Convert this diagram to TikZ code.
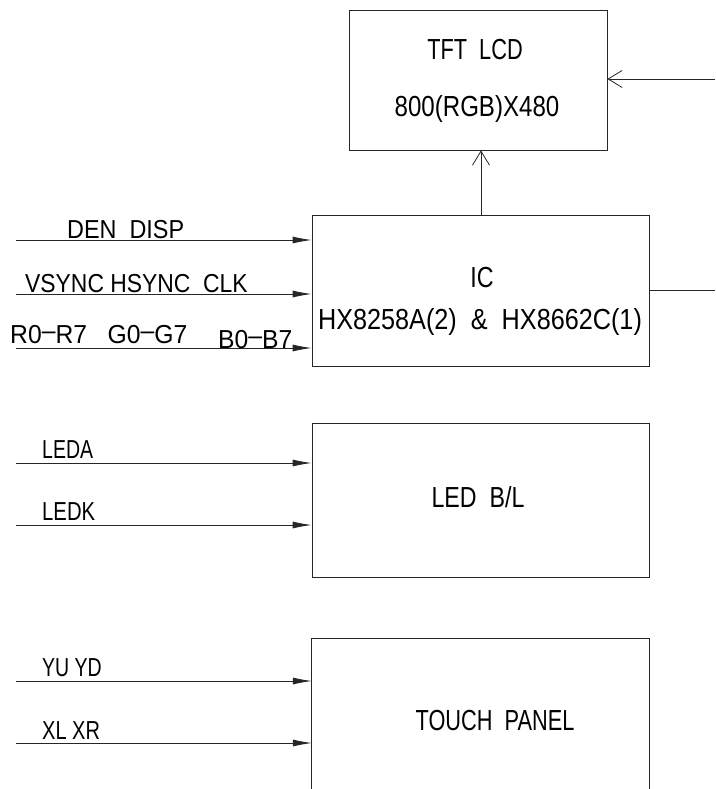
\documentclass[tikz,border=0pt]{standalone}
\usepackage{fontspec}
\setmainfont{Liberation Sans}
\usetikzlibrary{arrows.meta}
\begin{document}
\begin{tikzpicture}[x=1pt,y=-1pt,
  ln/.style={line width=0.8pt,draw=black!85},
  blk/.style={ln,draw,rectangle,inner sep=0pt},
  inarrow/.style={ln,-{Latex[length=19pt,width=7pt]}},
  openarrow/.style={ln,-{Straight Barb[length=14pt,width=17pt,line width=0.8pt]}},
  btxt/.style={anchor=base,inner sep=0pt,font=\fontsize{29}{32}\selectfont\addfontfeature{FakeStretch=#1}},
  ltxt/.style={anchor=base west,inner sep=0pt,font=\fontsize{26}{30}\selectfont\addfontfeature{FakeStretch=#1}}]
\useasboundingbox (0,0) rectangle (715,789);
% blocks
\node[blk,minimum width=258pt,minimum height=140pt] (tft) at (478,80) {};
\node[blk,minimum width=337pt,minimum height=151pt] (ic) at (480.5,290.5) {};
\node[blk,minimum width=337pt,minimum height=154pt] (led) at (480.5,500) {};
\node[inner sep=0pt,minimum width=337pt,minimum height=302pt] (tp) at (480.5,789) {};
\draw[ln] (tp.south west) -- (tp.west |- 0,638) -- (tp.east |- 0,638) -- (tp.south east);
% block texts
\node[btxt=0.75] (t1) at (475,60) {TFT~~LCD};
\node[btxt=0.83] (t2) at (477,117) {800(RGB)X480};
\node[btxt=0.8] (t3) at (482,287) {IC};
\node[btxt=0.87] (t4) at (480,329) {HX8258A(2)~~\&~~HX8662C(1)};
\node[btxt=0.8] (t5) at (478,507) {LED~~B/L};
\node[btxt=0.75] (t6) at (495,730) {TOUCH~~PANEL};
% input arrows
\coordinate (a1) at (16,240);
\coordinate (a2) at (16,294);
\coordinate (a3) at (16,348);
\coordinate (b1) at (16,463);
\coordinate (b2) at (16,525);
\coordinate (c1) at (16,681);
\coordinate (c2) at (16,743);
\draw[inarrow] (a1) -- (a1 -| ic.west);
\draw[inarrow] (a2) -- (a2 -| ic.west);
\draw[inarrow] (a3) -- (a3 -| ic.west);
\draw[inarrow] (b1) -- (b1 -| led.west);
\draw[inarrow] (b2) -- (b2 -| led.west);
\draw[inarrow] (c1) -- (c1 -| tp.west);
\draw[inarrow] (c2) -- (c2 -| tp.west);
% input labels
\node[ltxt=0.9] (l1) at (67,238) {DEN~~DISP};
\node[ltxt=0.88] (l2) at (25,292) {VSYNC~HSYNC~~CLK};
\node[ltxt=0.95] (l3) at (10,343) {R0\raisebox{0.12em}{–}R7~~~G0\raisebox{0.12em}{–}G7};
\node[ltxt=0.95] (l4) at (218,348) {B0\raisebox{0.12em}{–}B7};
\node[ltxt=0.75] (l5) at (42,458) {LEDA};
\node[ltxt=0.78] (l6) at (42,520) {LEDK};
\node[ltxt=0.75] (l7) at (42,676) {YU~YD};
\node[ltxt=0.77] (l8) at (42,739) {XL~XR};
% connections
\coordinate (v) at (481,0);
\draw[openarrow] (v |- ic.north) -- (v |- tft.south);
\coordinate (r1) at (715,79);
\draw[openarrow] (r1) -- (r1 -| tft.east);
\coordinate (r2) at (715,290);
\draw[ln] (r2 -| ic.east) -- (r2);
\end{tikzpicture}
\end{document}
